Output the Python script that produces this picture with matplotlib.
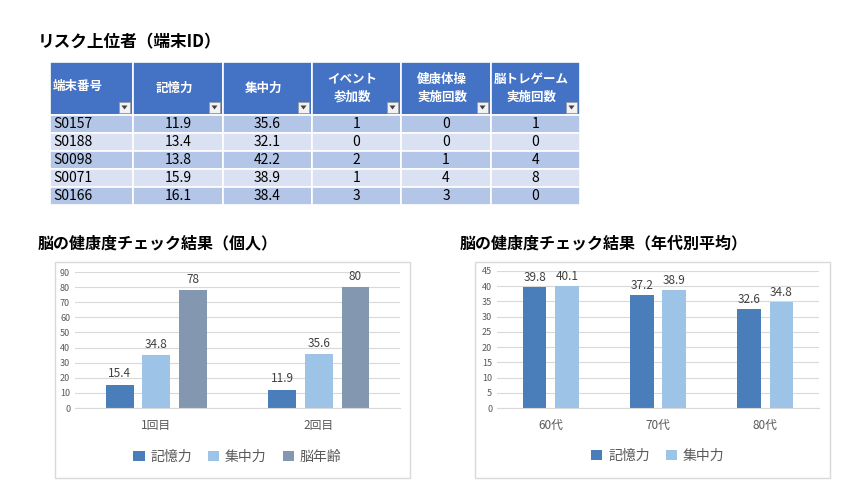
import matplotlib
matplotlib.use("Agg")
import matplotlib.pyplot as plt
from matplotlib.patches import Rectangle, Polygon

plt.rcParams["font.family"] = "Noto Sans CJK JP"

table_headers = ["端末番号", "記憶力", "集中力", "イベント\n参加数", "健康体操\n実施回数", "脳トレゲーム\n実施回数"]
table_rows = [
    ["S0157", "11.9", "35.6", "1", "0", "1"],
    ["S0188", "13.4", "32.1", "0", "0", "0"],
    ["S0098", "13.8", "42.2", "2", "1", "4"],
    ["S0071", "15.9", "38.9", "1", "4", "8"],
    ["S0166", "16.1", "38.4", "3", "3", "0"],
]

ind_categories = ["1回目", "2回目"]
ind_series = ["記憶力", "集中力", "脳年齢"]
ind_values = [[15.4, 11.9], [34.8, 35.6], [78, 80]]

age_categories = ["60代", "70代", "80代"]
age_series = ["記憶力", "集中力"]
age_values = [[39.8, 37.2, 32.6], [40.1, 38.9, 34.8]]

colors = ["#4a7ebb", "#9dc3e6", "#8497b0"]

W, H = 860, 498
fig = plt.figure(figsize=(8.6, 4.98), dpi=100)

def fx(x): return x / W
def fy(y): return 1 - y / H

# Titles
fig.text(fx(38), fy(42), "リスク上位者（端末ID）", fontsize=12, fontweight="bold", va="center")
fig.text(fx(38), fy(243), "脳の健康度チェック結果（個人）", fontsize=11.5, fontweight="bold", va="center")
fig.text(fx(460), fy(243), "脳の健康度チェック結果（年代別平均）", fontsize=11.5, fontweight="bold", va="center")

# Table
cols = [50, 133, 223, 312, 401, 491, 580]
hdr_top, hdr_bot = 62, 115
row_h = 18
for i, h in enumerate(table_headers):
    x0, x1 = cols[i], cols[i + 1]
    fig.patches.append(Rectangle((fx(x0), fy(hdr_bot)), fx(x1 - x0), (hdr_bot - hdr_top) / H,
                                 transform=fig.transFigure, facecolor="#4472c4", edgecolor="white", lw=1.2))
    if i == 0:
        fig.text(fx(x0 + 3), fy(86), h, color="white", fontsize=9, fontweight="bold", va="center")
    else:
        fig.text(fx((x0 + x1) / 2 - 4), fy(88), h, color="white", fontsize=9, fontweight="bold",
                 va="center", ha="center", linespacing=1.5)
    fig.patches.append(Rectangle((fx(x1 - 14), fy(hdr_bot - 2)), fx(11), 11 / H, transform=fig.transFigure,
                                 facecolor="#f2f2f2", edgecolor="#999999", lw=0.5))
    fig.patches.append(Polygon([(fx(x1 - 11.5), fy(hdr_bot - 9.5)), (fx(x1 - 5.5), fy(hdr_bot - 9.5)),
                                (fx(x1 - 8.5), fy(hdr_bot - 5.5))], closed=True,
                               transform=fig.transFigure, facecolor="#404040", edgecolor="none"))
for r, row in enumerate(table_rows):
    top = hdr_bot + r * row_h
    fc = "#b4c6e7" if r % 2 == 0 else "#d9e1f2"
    for i, v in enumerate(row):
        x0, x1 = cols[i], cols[i + 1]
        fig.patches.append(Rectangle((fx(x0), fy(top + row_h)), fx(x1 - x0), row_h / H,
                                     transform=fig.transFigure, facecolor=fc, edgecolor="white", lw=1.2))
        if i == 0:
            fig.text(fx(x0 + 3), fy(top + row_h / 2), v, fontsize=10, va="center")
        else:
            fig.text(fx((x0 + x1) / 2), fy(top + row_h / 2), v, fontsize=10, va="center", ha="center")

def chart_frame(x0, y0, x1, y1):
    fig.patches.append(Rectangle((fx(x0), fy(y1)), fx(x1 - x0), (y1 - y0) / H, transform=fig.transFigure,
                                 facecolor="white", edgecolor="#d9d9d9", lw=1, zorder=-5))

def style(ax):
    for s in ax.spines.values():
        s.set_visible(False)
    ax.spines["bottom"].set_visible(True)
    ax.spines["bottom"].set_color("#d9d9d9")
    ax.grid(axis="y", color="#d9d9d9", lw=0.8)
    ax.set_axisbelow(True)
    ax.tick_params(axis="y", length=0, labelsize=6.5, labelcolor="#595959")
    ax.tick_params(axis="x", length=0, labelsize=8.5, labelcolor="#595959", pad=8)
    ax.patch.set_alpha(0)

# Chart 1
chart_frame(55, 262, 410, 478)
ax1 = fig.add_axes([fx(75), fy(408), fx(325), (408 - 272) / H])
w, off = 0.17, 0.225
for k, (name, vals) in enumerate(zip(ind_series, ind_values)):
    xs = [i + (k - 1) * off for i in range(len(ind_categories))]
    bars = ax1.bar(xs, vals, width=w, color=colors[k], label=name)
    for b, v in zip(bars, vals):
        ax1.text(b.get_x() + b.get_width() / 2, v + 3, f"{v:g}", ha="center", va="bottom", fontsize=8.5, color="#404040")
ax1.set_xlim(-0.5, 1.5)
ax1.set_ylim(0, 90)
ax1.set_yticks(range(0, 91, 10))
ax1.set_xticks(range(len(ind_categories)))
ax1.set_xticklabels(ind_categories)
style(ax1)
ax1.legend(loc="center", bbox_to_anchor=(0.5, -0.36), ncol=3, frameon=False, fontsize=10,
           handlelength=0.8, handleheight=0.8, columnspacing=1.2, handletextpad=0.4, labelcolor="#595959")

# Chart 2
chart_frame(475, 262, 830, 478)
ax2 = fig.add_axes([fx(497), fy(408), fx(322), (408 - 271) / H])
w2, off2 = 0.22, 0.15
for k, (name, vals) in enumerate(zip(age_series, age_values)):
    xs = [i + (k - 0.5) * 2 * off2 for i in range(len(age_categories))]
    bars = ax2.bar(xs, vals, width=w2, color=colors[k], label=name)
    for b, v in zip(bars, vals):
        ax2.text(b.get_x() + b.get_width() / 2, v + 1, f"{v:g}", ha="center", va="bottom", fontsize=8.5, color="#404040")
ax2.set_xlim(-0.5, 2.5)
ax2.set_ylim(0, 45)
ax2.set_yticks(range(0, 46, 5))
ax2.set_xticks(range(len(age_categories)))
ax2.set_xticklabels(age_categories)
style(ax2)
ax2.legend(loc="center", bbox_to_anchor=(0.5, -0.35), ncol=2, frameon=False, fontsize=10,
           handlelength=0.8, handleheight=0.8, columnspacing=1.2, handletextpad=0.4, labelcolor="#595959")

fig.savefig("out.png", dpi=100)
